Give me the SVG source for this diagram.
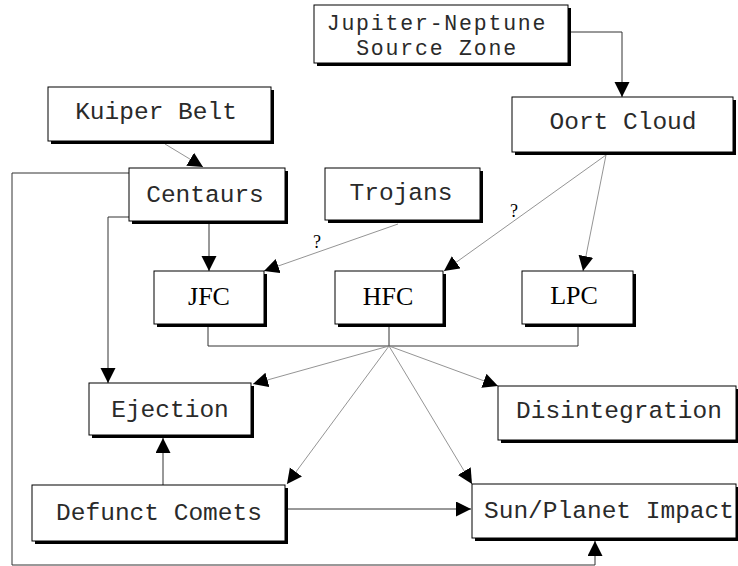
<svg xmlns="http://www.w3.org/2000/svg" width="738" height="566" viewBox="0 0 738 566">
<defs>
<style>
.sh{fill:#000}
.bx{fill:#fff;stroke:#000;stroke-width:1}
.t{font-family:"Liberation Mono","Courier New",monospace;font-size:24.5px;fill:#2a2a2a;text-anchor:middle}
.t2{font-family:"Liberation Mono","Courier New",monospace;font-size:21.5px;letter-spacing:1.8px;fill:#2a2a2a;text-anchor:middle}
.s{font-family:"Liberation Serif","Times New Roman",serif;font-size:26px;fill:#000;text-anchor:middle}
.q{font-family:"Liberation Serif","Times New Roman",serif;font-size:18px;fill:#000;text-anchor:middle}
.c{fill:none;stroke:#333;stroke-width:1}
.d{fill:none;stroke:#888;stroke-width:0.9}
</style>
<marker id="ah" markerUnits="userSpaceOnUse" markerWidth="16" markerHeight="16" refX="15" refY="7.5" orient="auto">
<path d="M0,0 L15,7.5 L0,15 z" fill="#000"/>
</marker>
</defs>
<rect width="738" height="566" fill="#fff"/>
<g id="connectors">
<path class="c" d="M571,32 H622 V97" marker-end="url(#ah)"/>
<path class="d" d="M165,144 L203,167" marker-end="url(#ah)"/>
<path class="c" d="M209,224 V271" marker-end="url(#ah)"/>
<path class="d" d="M398,224 L264,271" marker-end="url(#ah)"/>
<path class="d" d="M606,155 L444,271" marker-end="url(#ah)"/>
<path class="d" d="M606,155 L583,271" marker-end="url(#ah)"/>
<path class="c" d="M129,217 H108 V383" marker-end="url(#ah)"/>
<path class="c" d="M129,173 H12 V565 H595 V541" marker-end="url(#ah)"/>
<path class="c" d="M208,327 V346 H578 V327 M389,327 V346"/>
<path class="d" d="M389,346 L253,384" marker-end="url(#ah)"/>
<path class="d" d="M389,346 L498,386" marker-end="url(#ah)"/>
<path class="d" d="M389,346 L287,484" marker-end="url(#ah)"/>
<path class="d" d="M389,346 L472,484" marker-end="url(#ah)"/>
<path class="c" d="M163,485 V438" marker-end="url(#ah)"/>
<path class="c" d="M288,509 H471" marker-end="url(#ah)"/>
<text class="q" x="317" y="248">?</text>
<text class="q" x="514" y="217">?</text>
</g>
<g id="jn">
<rect class="sh" x="317" y="8" width="254" height="58"/>
<rect class="bx" x="314" y="5" width="254" height="58"/>
<text class="t2" x="437" y="30">Jupiter-Neptune</text>
<text class="t2" x="437" y="55">Source Zone</text>
</g>
<g id="oort">
<rect class="sh" x="515" y="100" width="221" height="55"/>
<rect class="bx" x="512" y="97" width="221" height="55"/>
<text class="t" x="623" y="129">Oort Cloud</text>
</g>
<g id="kuiper">
<rect class="sh" x="51" y="90" width="223" height="54"/>
<rect class="bx" x="48" y="87" width="223" height="54"/>
<text class="t" x="156" y="119">Kuiper Belt</text>
</g>
<g id="centaurs">
<rect class="sh" x="132" y="171" width="156" height="53"/>
<rect class="bx" x="129" y="168" width="156" height="53"/>
<text class="t" x="205" y="202">Centaurs</text>
</g>
<g id="trojans">
<rect class="sh" x="328" y="171" width="155" height="52"/>
<rect class="bx" x="325" y="168" width="155" height="52"/>
<text class="t" x="401" y="200">Trojans</text>
</g>
<g id="jfc">
<rect class="sh" x="157" y="274" width="110" height="53"/>
<rect class="bx" x="154" y="271" width="110" height="53"/>
<text class="s" x="209" y="305">JFC</text>
</g>
<g id="hfc">
<rect class="sh" x="338" y="274" width="108" height="53"/>
<rect class="bx" x="335" y="271" width="108" height="53"/>
<text class="s" x="388" y="305">HFC</text>
</g>
<g id="lpc">
<rect class="sh" x="525" y="274" width="111" height="53"/>
<rect class="bx" x="522" y="271" width="111" height="53"/>
<text class="s" x="574" y="304">LPC</text>
</g>
<g id="ejection">
<rect class="sh" x="92" y="386" width="162" height="52"/>
<rect class="bx" x="89" y="383" width="162" height="52"/>
<text class="t" x="170" y="417">Ejection</text>
</g>
<g id="disintegration">
<rect class="sh" x="501" y="389" width="238" height="54"/>
<rect class="bx" x="498" y="386" width="238" height="54"/>
<text class="t" x="619" y="418">Disintegration</text>
</g>
<g id="defunct">
<rect class="sh" x="35" y="488" width="253" height="56"/>
<rect class="bx" x="32" y="485" width="253" height="56"/>
<text class="t" x="159" y="520">Defunct Comets</text>
</g>
<g id="sun">
<rect class="sh" x="475" y="487" width="264" height="54"/>
<rect class="bx" x="472" y="484" width="264" height="54"/>
<text class="t" x="609" y="518">Sun/Planet Impact</text>
</g>
</svg>
